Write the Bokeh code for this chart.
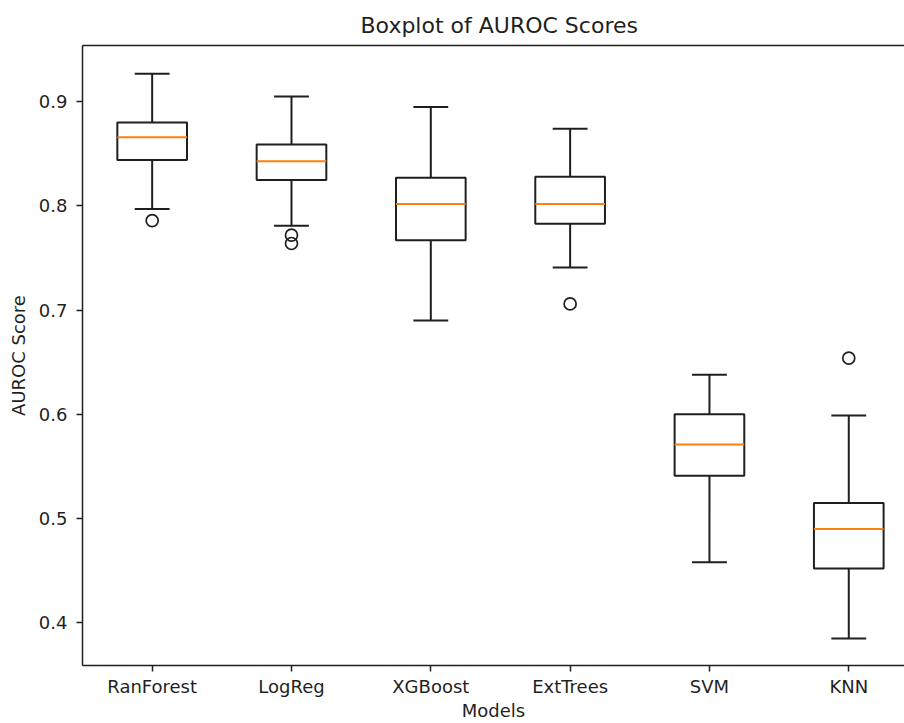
from bokeh.plotting import figure
from bokeh.models import LinearAxis, FixedTicker, Range1d
from bokeh.embed import file_html
from bokeh.resources import INLINE

models = ["RanForest", "LogReg", "XGBoost", "ExtTrees", "SVM", "KNN"]
lower_whisker = [0.797, 0.781, 0.690, 0.741, 0.458, 0.385]
q1 = [0.844, 0.825, 0.767, 0.783, 0.541, 0.452]
median = [0.866, 0.843, 0.802, 0.802, 0.571, 0.490]
q3 = [0.880, 0.859, 0.827, 0.828, 0.600, 0.515]
upper_whisker = [0.927, 0.905, 0.895, 0.874, 0.638, 0.599]
outlier_model = ["RanForest", "LogReg", "LogReg", "ExtTrees", "KNN"]
outlier_value = [0.786, 0.772, 0.764, 0.706, 0.654]
y_ticks = [0.4, 0.5, 0.6, 0.7, 0.8, 0.9]

pos = {m: i + 1 for i, m in enumerate(models)}
xs = [pos[m] for m in models]
box_w = 0.5
cap_w = 0.25

FONT = "DejaVu Sans"
INK = "#1f1f1f"
LW = 2

p = figure(width=904, height=723, output_backend="svg", toolbar_location=None,
           x_range=Range1d(0.5, 6.4), y_range=Range1d(0.359, 0.954),
           title="Boxplot of AUROC Scores",
           min_border_left=82, min_border_right=0, min_border_top=45, min_border_bottom=0)
p.background_fill_color = "white"
p.border_fill_color = "white"
p.outline_line_color = None
p.xgrid.visible = False
p.ygrid.visible = False

p.title.text_font = FONT
p.title.text_font_size = "22px"
p.title.text_font_style = "normal"
p.title.text_color = INK
p.title.align = "left"
p.title.offset = 278
p.title.standoff = 16

# whiskers
p.segment(x0=xs, y0=q3, x1=xs, y1=upper_whisker, line_color=INK, line_width=LW)
p.segment(x0=xs, y0=lower_whisker, x1=xs, y1=q1, line_color=INK, line_width=LW)
# caps
p.segment(x0=[x - cap_w / 2 for x in xs], y0=upper_whisker,
          x1=[x + cap_w / 2 for x in xs], y1=upper_whisker, line_color=INK, line_width=LW)
p.segment(x0=[x - cap_w / 2 for x in xs], y0=lower_whisker,
          x1=[x + cap_w / 2 for x in xs], y1=lower_whisker, line_color=INK, line_width=LW)
# boxes
p.vbar(x=xs, width=box_w, bottom=q1, top=q3, fill_color="white",
       line_color=INK, line_width=LW)
# medians
p.segment(x0=[x - box_w / 2 for x in xs], y0=median,
          x1=[x + box_w / 2 for x in xs], y1=median, line_color="#ff7f0e", line_width=LW)
# outliers
p.scatter(x=[pos[m] for m in outlier_model], y=outlier_value, marker="circle", size=12,
          fill_color=None, line_color=INK, line_width=1.7)

# axes
xa = p.xaxis[0]
xa.ticker = FixedTicker(ticks=xs)
xa.major_label_overrides = {x: m for x, m in zip(xs, models)}
xa.axis_label = "Models"
ya = p.yaxis[0]
ya.ticker = FixedTicker(ticks=y_ticks)
ya.axis_label = "AUROC Score"
for ax in (xa, ya):
    ax.minor_tick_line_color = None
    ax.major_tick_in = 0
    ax.major_tick_out = 6
    ax.major_tick_line_color = INK
    ax.major_tick_line_width = 1.5
    ax.axis_line_color = INK
    ax.axis_line_width = 1.5
    ax.major_label_text_font = FONT
    ax.major_label_text_font_size = "18px"
    ax.major_label_text_color = INK
    ax.axis_label_text_font = FONT
    ax.axis_label_text_font_size = "18px"
    ax.axis_label_text_font_style = "normal"
    ax.axis_label_text_color = INK
xa.major_label_standoff = 4
xa.axis_label_standoff = 0
xa.axis_label_text_line_height = 0.75
xa.major_label_text_line_height = 0.75
ya.major_label_standoff = 9
ya.axis_label_standoff = 7

top = LinearAxis(ticker=FixedTicker(ticks=[]), axis_line_color=INK, axis_line_width=1.5,
                 major_label_text_font_size="0px", minor_tick_line_color=None,
                 major_tick_line_color=None)
p.add_layout(top, "above")

open("out.html", "w").write(file_html(p, INLINE))
